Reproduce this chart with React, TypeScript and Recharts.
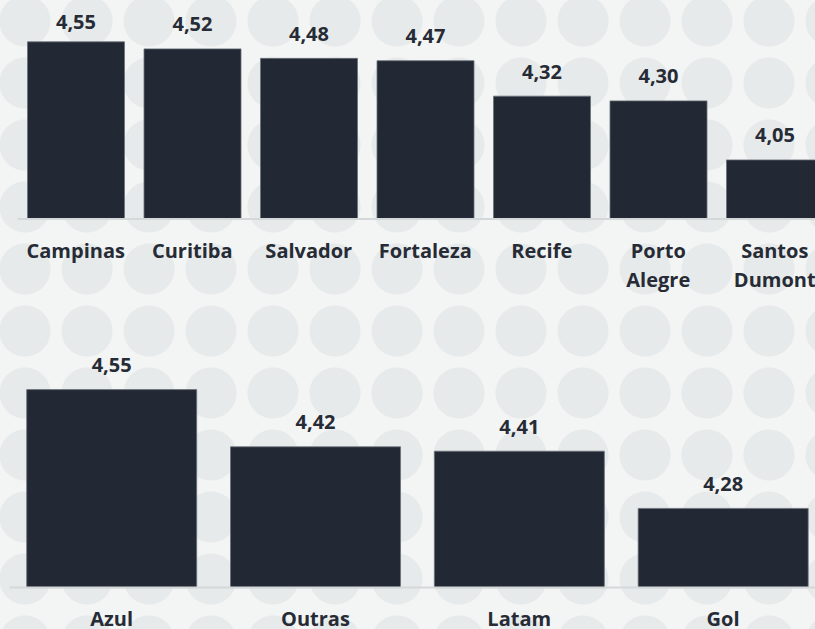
import { BarChart, Bar, XAxis, YAxis, LabelList } from "recharts";

// aeroportos
const airports = ["Campinas", "Curitiba", "Salvador", "Fortaleza", "Recife", "Porto Alegre", "Santos Dumont"];
const airportScores = [4.55, 4.52, 4.48, 4.47, 4.32, 4.3, 4.05];

// companhias
const airlines = ["Azul", "Outras", "Latam", "Gol"];
const airlineScores = [4.55, 4.42, 4.41, 4.28];

const airportData = airports.map((name, i) => ({ name, score: airportScores[i] }));
const airlineData = airlines.map((name, i) => ({ name, score: airlineScores[i] }));

const TEXT = "#262b35";
const BAR = "#222834";
const FONT = "'Open Sans', sans-serif";

const fmt = (v: number) => v.toFixed(2).replace(".", ",");

const ValueLabel = (props: any) => {
  const { x, y, width, value } = props;
  return (
    <text
      x={x + width / 2}
      y={Math.max(y - 25, 21)}
      textAnchor="middle"
      dominantBaseline="central"
      fill={TEXT}
      fontFamily={FONT}
      fontWeight={700}
      fontSize={20}
    >
      {fmt(value)}
    </text>
  );
};

const CategoryTick = (props: any) => {
  const { x, y, payload } = props;
  const lines = String(payload.value).split(" ");
  return (
    <g>
      {lines.map((l, i) => (
        <text
          key={i}
          x={x}
          y={y + 31 + i * 29}
          textAnchor="middle"
          dominantBaseline="central"
          fill={TEXT}
          fontFamily={FONT}
          fontWeight={700}
          fontSize={20}
        >
          {l}
        </text>
      ))}
    </g>
  );
};

export default function App() {
  return (
    <div
      style={{
        position: "absolute",
        left: 0,
        top: 0,
        width: 815,
        height: 629,
        overflow: "hidden",
        backgroundColor: "#f3f4f4",
        backgroundImage: "radial-gradient(circle, #e7eaea 0 25px, transparent 26px)",
        backgroundSize: "62px 62px",
        backgroundPosition: "-6px -10px",
      }}
    >
      <div style={{ position: "absolute", left: 0, top: 0 }}>
        <BarChart
          width={833}
          height={300}
          data={airportData}
          margin={{ top: 30, right: 0, left: 17.5, bottom: 0 }}
        >
          <XAxis
            dataKey="name"
            height={81}
            axisLine={{ stroke: "#d5d8d9", strokeWidth: 2 }}
            tickLine={false}
            tickSize={0}
            tickMargin={0}
            interval={0}
            tick={<CategoryTick />}
          />
          <YAxis hide domain={[3.8, 4.6]} />
          <Bar dataKey="score" fill={BAR} stroke="#6b717a" strokeWidth={0.8} barSize={97} isAnimationActive={false}>
            <LabelList dataKey="score" content={<ValueLabel />} />
          </Bar>
        </BarChart>
      </div>
      <div style={{ position: "absolute", left: 0, top: 320 }}>
        <BarChart
          width={825}
          height={320}
          data={airlineData}
          margin={{ top: 47.6, right: 0, left: 9.7, bottom: 0 }}
        >
          <XAxis
            dataKey="name"
            height={52.4}
            axisLine={{ stroke: "#d5d8d9", strokeWidth: 2 }}
            tickLine={false}
            tickSize={0}
            tickMargin={0}
            interval={0}
            tick={<CategoryTick />}
          />
          <YAxis hide domain={[4.1, 4.6]} />
          <Bar dataKey="score" fill={BAR} stroke="#6b717a" strokeWidth={0.8} barSize={170} isAnimationActive={false}>
            <LabelList dataKey="score" content={<ValueLabel />} />
          </Bar>
        </BarChart>
      </div>
    </div>
  );
}
